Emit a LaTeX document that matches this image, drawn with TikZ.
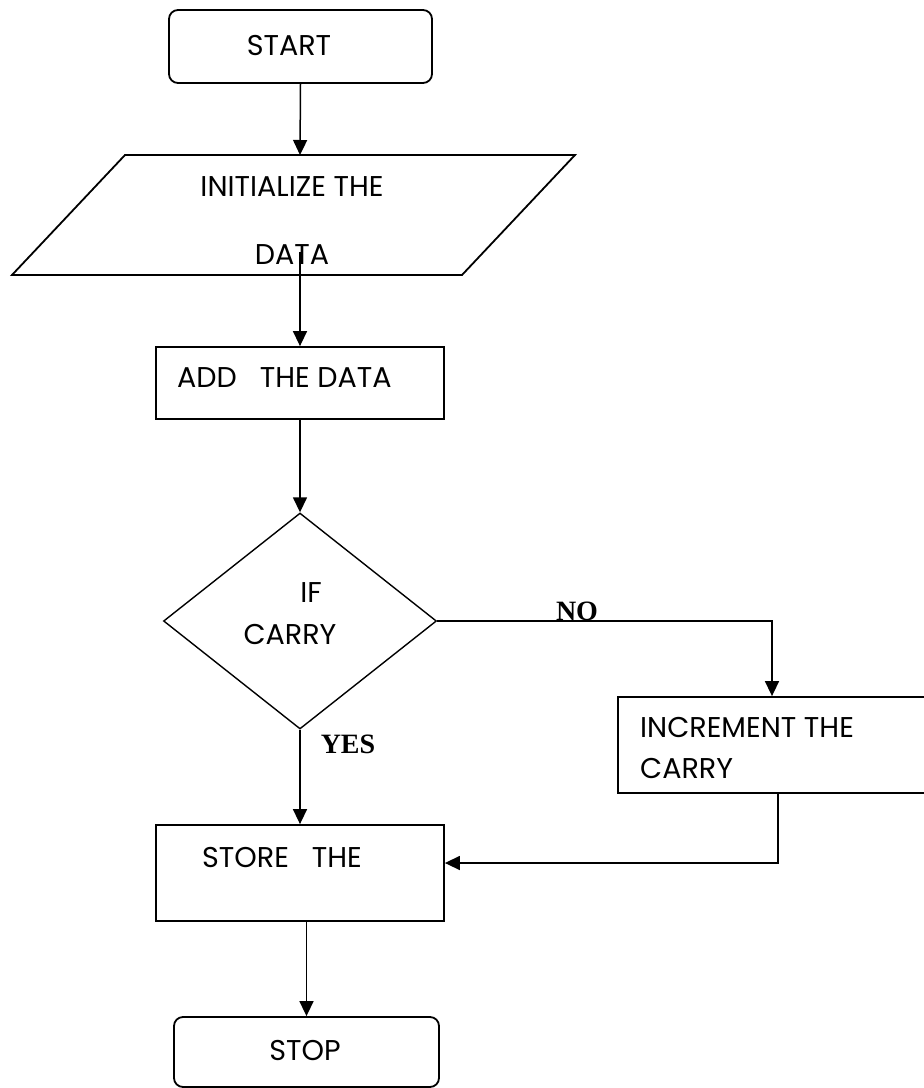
\documentclass[tikz,border=0pt]{standalone}
\usepackage{fontspec}
\setmainfont{Poppins}
\newfontfamily\labelfont{Liberation Serif}
\usetikzlibrary{arrows.meta,shapes.geometric}
\begin{document}
\begin{tikzpicture}[x=1pt,y=-1pt,
  box/.style={draw=black,line width=1.8pt,rectangle,inner sep=0pt},
  roundbox/.style={box,rounded corners=9pt},
  decision/.style={draw=black,line width=1.4pt,diamond,inner sep=0pt},
  txt/.style={inner sep=0pt,font=\fontsize{28.6}{33}\selectfont},
  lefttxt/.style={txt,anchor=west},
  flag/.style={inner sep=0pt,anchor=base,font=\fontsize{28}{32}\selectfont\labelfont\bfseries},
  conn/.style={draw=black,line width=1.5pt},
  arr/.style={conn,-{Triangle[width=14pt,length=15pt]}}]
\useasboundingbox (0,0) rectangle (924,1088);
\fill[white] (0,0) rectangle (924,1088);

% terminals and process boxes
\node[roundbox,minimum width=263pt,minimum height=73pt] (start) at (300.5,46.5) {};
\node[txt] (startT) at (289,45) {START};

\draw[box] (125,155) -- (575,155) -- (462,275) -- (12,275) -- cycle;
\coordinate (ptop) at (300,155);
\coordinate (dstart) at (300,252);
\node[txt] (init1) at (292,187) {INITIALIZE THE};
\node[txt] (init2) at (292,255) {DATA};

\node[box,minimum width=288pt,minimum height=72pt] (add) at (300,383) {};
\node[lefttxt] (addT) at (177,378) {ADD\ \ \ THE DATA};

\node[decision,minimum width=273pt,minimum height=216pt] (dec) at (300,621) {};
\node[txt] (if1) at (311,593) {IF};
\node[txt] (if2) at (290,634) {CARRY};

\node[box,minimum width=312pt,minimum height=96pt] (inc) at (774,745) {};
\node[lefttxt] (inc1) at (640,727) {INCREMENT THE};
\node[lefttxt] (inc2) at (640,768) {CARRY};

\node[box,minimum width=288pt,minimum height=96pt] (store) at (300,873) {};
\node[lefttxt] (storeT) at (202,857) {STORE\ \ \ THE};

\node[roundbox,minimum width=265pt,minimum height=70pt] (stop) at (306.5,1052) {};
\node[txt] (stopT) at (305,1050) {STOP};

% branch labels
\node[flag] (no) at (577,620) {NO};
\node[flag] (yes) at (348,753) {YES};

% connectors
\coordinate (nocorner) at (772,621);
\coordinate (incout) at (778,793);
\coordinate (retcorner) at (778,863);

\draw[arr] (start.south) -- (ptop);
\draw[arr] (dstart) -- (add.north);
\draw[arr] (add.south) -- (dec.north);
\draw[arr] (dec.east) -- (nocorner) -- (nocorner |- inc.north);
\draw[arr] (dec.south) -- (store.north);
\draw[arr] (incout) -- (retcorner) -- (retcorner -| store.east);
\draw[arr] (stop.north |- store.south) -- (stop.north);
\end{tikzpicture}
\end{document}
